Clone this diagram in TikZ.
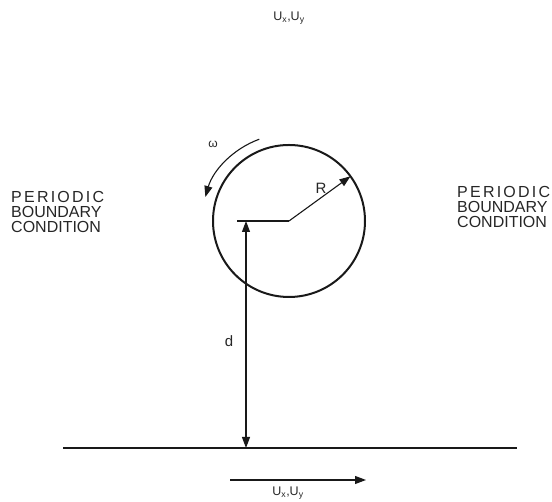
\documentclass[tikz,border=0pt]{standalone}
\usepackage{fontspec}
\setmainfont{Liberation Sans}
\newfontfamily\wideface[LetterSpace=14]{Liberation Sans}
\usetikzlibrary{arrows.meta,calc}
\begin{document}
\begin{tikzpicture}[x=1pt,y=1pt,
  thinline/.style={line width=1.1pt,draw=black!90},
  thickline/.style={line width=2pt,draw=black!90},
  tip/.style={-{Triangle[length=11pt,width=8pt]}},
  lbl/.style={inner sep=0pt,text=black!85},
  bc/.style={inner sep=0pt,anchor=base west,align=left,text=black!85,font=\fontsize{16}{16}\selectfont}]
\useasboundingbox (0,0) rectangle (552,502);
% geometry
\coordinate (c) at (289,281);
\coordinate (hl) at (237,281);
\coordinate (dtop) at (246,281);
\coordinate (dbot) at (246,54);
\coordinate (gl) at (63,54);
\coordinate (gr) at (517,54);
\coordinate (rend) at ($(c)+(36:76)$);
\coordinate (ua) at (230,22);
\coordinate (ub) at (366,22);
% circle
\draw[thickline] (c) circle (76);
% center line and radius
\draw[thinline] (hl) -- (c);
\draw[thinline,tip] (c) -- (rend);
% distance d
\draw[thinline,{Triangle[length=11pt,width=8pt]}-{Triangle[length=11pt,width=8pt]}] (dtop) -- (dbot);
% ground
\draw[thickline] (gl) -- (gr);
% velocity arrow
\draw[thinline,tip] (ua) -- (ub);
% omega arc
\draw[thinline,tip] ($(c)+(110:87)$) arc[start angle=110,end angle=164,radius=87];
% labels
\node[lbl,font=\fontsize{15}{15}\selectfont] (R) at (321,314) {R};
\node[lbl,font=\fontsize{15}{15}\selectfont] (d) at (229,161) {d};
\node[lbl,font=\fontsize{12}{12}\selectfont] (w) at (213,358) {ω};
\node[lbl,font=\fontsize{12.5}{12.5}\selectfont] (utop) at (289,484) {U\textsubscript{x},U\textsubscript{y}};
\node[lbl,font=\fontsize{12.5}{12.5}\selectfont] (ubot) at (288,9) {U\textsubscript{x},U\textsubscript{y}};
\node[bc] (l1) at (11,299) {{\wideface PERIODIC}};
\node[bc] (l2) at (11,284) {BOUNDARY};
\node[bc] (l3) at (11,269) {CONDITION};
\node[bc] (r1) at (457,304) {{\wideface PERIODIC}};
\node[bc] (r2) at (457,289) {BOUNDARY};
\node[bc] (r3) at (457,274) {CONDITION};
\end{tikzpicture}
\end{document}
